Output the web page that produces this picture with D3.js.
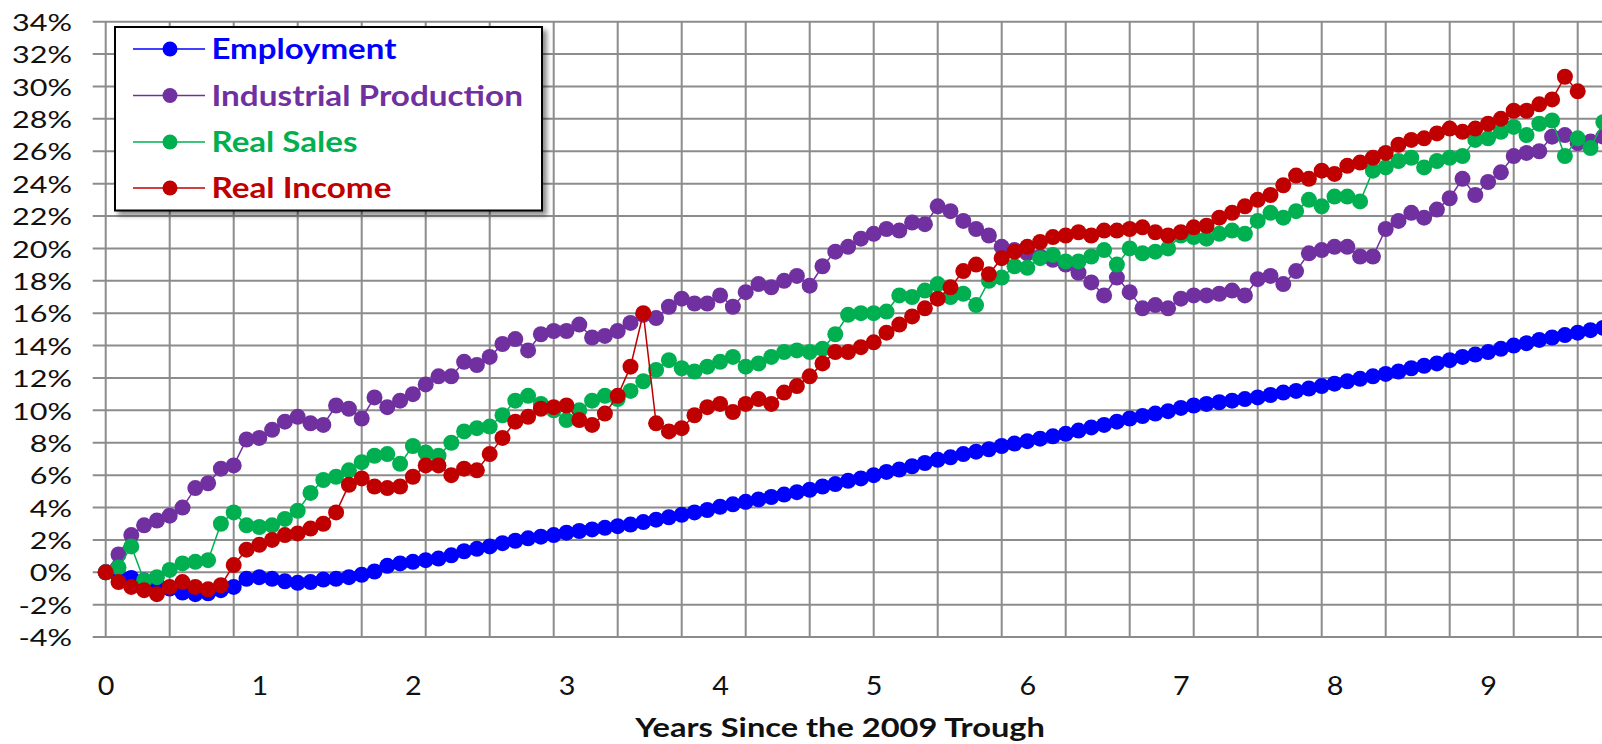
<!DOCTYPE html>
<html><head><meta charset="utf-8">
<script src="https://cdn.jsdelivr.net/npm/d3@7"></script>
<style>html,body{margin:0;padding:0;background:#fff;overflow:hidden}</style>
</head><body>
<svg id="chart" width="1602" height="744"></svg>
<script>
// ---- data (monthly, % change since the June 2009 trough) ----
const seriesNames = ["Employment", "Industrial Production", "Real Sales", "Real Income"];
const seriesColors = ["#0000FF", "#7030A0", "#00B050", "#C00000"];

const employment = [0,-0.2,-0.35,-0.5,-0.75,-1.0,-1.25,-1.35,-1.3,-1.1,-0.9,-0.4,-0.3,-0.4,-0.55,-0.65,-0.6,-0.45,-0.4,-0.3,
 -0.15,0.05,0.4,0.55,0.65,0.75,0.85,1.05,1.3,1.45,1.6,1.8,1.95,2.1,2.2,2.3,2.45,2.55,2.65,2.75,
 2.85,2.95,3.1,3.25,3.4,3.55,3.7,3.85,4.05,4.2,4.35,4.5,4.65,4.8,4.95,5.1,5.3,5.45,5.65,5.8,
 6.0,6.2,6.35,6.55,6.75,6.95,7.1,7.3,7.45,7.6,7.8,7.95,8.1,8.25,8.4,8.55,8.75,8.95,9.1,9.3,
 9.5,9.65,9.8,9.95,10.15,10.3,10.4,10.5,10.6,10.7,10.8,10.95,11.1,11.2,11.35,11.5,11.65,11.8,11.95,12.1,
 12.25,12.4,12.6,12.75,12.9,13.1,13.3,13.45,13.6,13.8,14.0,14.15,14.35,14.5,14.65,14.8,14.95,15.1];

const industrialProduction = [0,1.1,2.3,2.9,3.2,3.5,4.0,5.2,5.5,6.4,6.6,8.2,8.3,8.8,9.3,9.6,9.2,9.1,10.3,10.1,
 9.5,10.8,10.2,10.6,11.0,11.6,12.1,12.1,13.0,12.8,13.3,14.1,14.4,13.7,14.7,14.9,14.9,15.3,14.5,14.6,
 14.9,15.4,15.9,15.7,16.4,16.9,16.6,16.6,17.1,16.4,17.3,17.8,17.6,18.0,18.3,17.7,18.9,19.8,20.1,20.6,
 20.9,21.2,21.1,21.6,21.5,22.6,22.3,21.7,21.2,20.8,20.1,19.9,19.7,19.5,19.3,19.0,18.5,17.9,17.1,18.2,
 17.3,16.3,16.5,16.3,16.9,17.1,17.1,17.2,17.4,17.1,18.1,18.3,17.8,18.6,19.7,19.9,20.1,20.1,19.5,19.5,
 21.2,21.7,22.2,21.9,22.4,23.1,24.3,23.3,24.1,24.7,25.7,25.9,26.0,26.9,27.0,26.5,26.6,26.9];

const realSales = [0,0.3,1.6,-0.5,-0.3,0.15,0.55,0.65,0.75,3.0,3.7,2.9,2.8,2.9,3.3,3.8,4.9,5.7,5.9,6.3,
 6.8,7.2,7.3,6.7,7.8,7.4,7.2,8.0,8.7,8.9,9.0,9.7,10.6,10.9,10.4,10.0,9.4,10.0,10.6,10.9,
 10.7,11.2,11.8,12.5,13.1,12.6,12.4,12.7,13.0,13.3,12.7,12.9,13.3,13.6,13.7,13.6,13.8,14.7,15.9,16.0,
 16.0,16.1,17.1,17.0,17.4,17.8,17.0,17.2,16.5,18.0,18.2,18.9,18.8,19.4,19.6,19.2,19.2,19.5,19.9,19.0,
 20.0,19.7,19.8,20.0,20.8,20.7,20.6,20.9,21.1,20.9,21.7,22.2,21.9,22.3,23.0,22.6,23.2,23.2,22.9,24.8,
 25.0,25.4,25.6,25.0,25.4,25.6,25.7,26.7,26.8,27.2,27.5,27.0,27.7,27.9,25.7,26.8,26.2,27.8];

const realIncome = [0,-0.6,-0.9,-1.1,-1.35,-0.9,-0.6,-0.9,-1.05,-0.8,0.45,1.4,1.7,2.0,2.3,2.4,2.7,3.0,3.7,5.4,
 5.8,5.3,5.2,5.3,5.9,6.6,6.6,6.0,6.4,6.3,7.3,8.3,9.3,9.6,10.1,10.2,10.3,9.4,9.1,9.8,
 10.9,12.7,16.0,9.2,8.7,8.9,9.7,10.2,10.4,9.9,10.4,10.7,10.4,11.1,11.5,12.1,12.9,13.6,13.6,13.9,
 14.2,14.8,15.3,15.8,16.3,16.9,17.6,18.6,19.0,18.4,19.4,19.8,20.1,20.4,20.7,20.8,21.0,20.8,21.1,21.1,
 21.2,21.3,21.0,20.8,21.0,21.3,21.4,21.9,22.2,22.6,23.0,23.3,23.9,24.5,24.3,24.8,24.6,25.1,25.3,25.6,
 25.9,26.4,26.7,26.8,27.1,27.4,27.2,27.4,27.7,28.0,28.5,28.5,28.9,29.2,30.6,29.7];

const yTickValues = [-4,-2,0,2,4,6,8,10,12,14,16,18,20,22,24,26,28,30,32,34];
const xTickLabels = ["0","1","2","3","4","5","6","7","8","9"];
const xTickMonths = [0,12,24,36,48,60,72,84,96,108];
const xGridMonths = [0,5,10,15,20,25,30,35,40,45,50,55,60,65,70,75,80,85,90,95,100,105,110,115];
const xAxisTitle = "Years Since the 2009 Trough";

(function draw() {
  const svg = d3.select("#chart");
  const FONT = "Lato, Carlito, Calibri, sans-serif";
  const pL = 105.7, pR = 1603.3, pT = 21.7, pB = 637.1;
  const x = d3.scaleLinear().domain([0, 117]).range([pL, pR]);
  const y = d3.scaleLinear().domain([-4, 34]).range([pB, pT]);

  svg.append("rect").attr("width",1602).attr("height",744).attr("fill","#fff");

  const defs = svg.append("defs");
  const f = defs.append("filter").attr("id","shadow").attr("x","-10%").attr("y","-10%").attr("width","130%").attr("height","130%");
  f.append("feDropShadow").attr("dx",4).attr("dy",4).attr("stdDeviation",2.5)
    .attr("flood-color","#000").attr("flood-opacity",0.45);

  // grid
  const grid = svg.append("g");
  grid.selectAll("line.h").data(yTickValues).join("line").attr("class","h")
    .attr("x1", pL - 13).attr("x2", 1602)
    .attr("y1", d => y(d)).attr("y2", d => y(d))
    .attr("stroke","#8c8c8c").attr("stroke-width",2);
  grid.selectAll("line.v").data(xGridMonths).join("line").attr("class","v")
    .attr("x1", d => x(d)).attr("x2", d => x(d))
    .attr("y1", pT).attr("y2", pB)
    .attr("stroke","#8c8c8c").attr("stroke-width",2);

  // y axis labels
  const yAxis = d3.axisLeft(y).tickValues(yTickValues).tickFormat(d => d + "%").tickSize(0);
  const yG = svg.append("g").attr("transform",`translate(${pL},0)`).call(yAxis);
  yG.select(".domain").remove();
  yG.selectAll("text").attr("font-family",FONT).attr("font-size",24).attr("fill","#111")
    .attr("text-anchor","end").attr("x",0).attr("dy","0.36em");
  let refW = yG.selectAll("text").nodes().find(n => n.textContent === "34%").getComputedTextLength();
  const syY = 60 / refW;
  yG.selectAll("text").attr("transform", `translate(-33.7,0) scale(${syY},1)`);

  // x axis labels
  const xAxis = d3.axisBottom(x).tickValues(xTickMonths).tickFormat((d,i) => xTickLabels[i]).tickSize(0);
  const xG = svg.append("g").attr("transform",`translate(0,${pB})`).call(xAxis);
  xG.select(".domain").remove();
  xG.selectAll("text").attr("font-family",FONT).attr("font-size",27).attr("fill","#111")
    .attr("y",0).attr("dy","0.36em");
  refW = xG.selectAll("text").nodes()[4].getComputedTextLength();
  const sxX = 16.7 / refW;
  xG.selectAll("text").attr("transform", `translate(0,48) scale(${sxX},1)`);

  // x axis title
  const tt = svg.append("text").text(xAxisTitle).attr("font-family",FONT).attr("font-weight","bold")
    .attr("font-size",26.5).attr("fill","#111").attr("text-anchor","middle");
  const tW = tt.node().getComputedTextLength();
  tt.attr("transform",`translate(840,736.7) scale(${410/tW},1)`);

  // series
  const allSeries = [employment, industrialProduction, realSales, realIncome];
  const line = d3.line().x((d,i) => x(i)).y(d => y(d));
  allSeries.forEach((vals, k) => {
    const g = svg.append("g");
    g.append("path").attr("d", line(vals)).attr("fill","none")
      .attr("stroke", seriesColors[k]).attr("stroke-width",1.5);
    g.selectAll("circle").data(vals).join("circle")
      .attr("cx", (d,i) => x(i)).attr("cy", d => y(d)).attr("r",8)
      .attr("fill", seriesColors[k]);
  });

  // legend
  const lg = svg.append("g");
  lg.append("rect").attr("x",115).attr("y",27).attr("width",427).attr("height",183.5)
    .attr("fill","#fff").attr("stroke","#000").attr("stroke-width",2).attr("filter","url(#shadow)");
  const rowY = [49, 95.5, 142, 188];
  const legendWidths = [185, 311.5, 146, 180];
  seriesNames.forEach((name, k) => {
    lg.append("line").attr("x1",133).attr("x2",205).attr("y1",rowY[k]).attr("y2",rowY[k])
      .attr("stroke",seriesColors[k]).attr("stroke-width",1.5);
    lg.append("circle").attr("cx",170).attr("cy",rowY[k]).attr("r",7.5).attr("fill",seriesColors[k]);
    const t = lg.append("text").text(name).attr("font-family",FONT).attr("font-weight","bold")
      .attr("font-size",28.5).attr("fill",seriesColors[k]).attr("dy","0.36em");
    const w = t.node().getComputedTextLength();
    t.attr("transform",`translate(211.5,${rowY[k]}) scale(${legendWidths[k]/w},1)`);
  });
})();
</script>
</body></html>
